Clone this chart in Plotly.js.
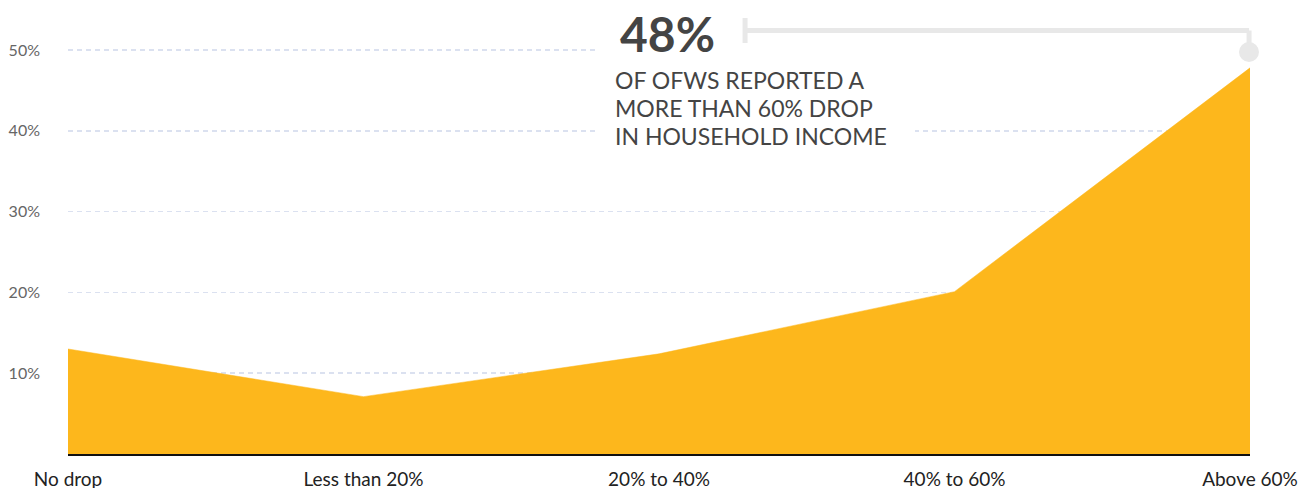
<!DOCTYPE html>
<html>
<head>
<meta charset="utf-8">
<script src="https://cdn.plot.ly/plotly-3.0.1.min.js"></script>
<style>html,body{margin:0;padding:0;background:#fff;}#chart{width:1299px;height:488px;}</style>
</head>
<body>
<div id="chart"></div>
<script>
const categories = ["No drop", "Less than 20%", "20% to 40%", "40% to 60%", "Above 60%"];
const shares = [13, 7.1, 12.4, 20.1, 47.8];
const yTickVals = [10, 20, 30, 40, 50];
const yTickText = ["10%", "20%", "30%", "40%", "50%"];
const headline = "48%";
const sublines = ["OF OFWS REPORTED A", "MORE THAN 60% DROP", "IN HOUSEHOLD INCOME"];

const FONT = "Lato, 'Open Sans', sans-serif";
const trace = {
  x: categories,
  y: shares,
  type: "scatter",
  mode: "lines",
  fill: "tozeroy",
  fillcolor: "#FDB71C",
  line: {color: "#FDB71C", width: 0.5},
  hoverinfo: "x+y"
};

const grey = "#e8e8e8";
const sublineY = [0.824, 0.762, 0.700];
const layout = {
  width: 1299, height: 488,
  margin: {l: 68, r: 49, t: 0, b: 34},
  paper_bgcolor: "#fff", plot_bgcolor: "#fff",
  showlegend: false,
  font: {family: FONT},
  xaxis: {
    type: "category",
    range: [0, 4],
    showgrid: false, zeroline: false,
    showline: true, linecolor: "#111", linewidth: 2,
    ticks: "", ticklabelstandoff: 7,
    tickfont: {family: FONT, size: 19, color: "#222"},
    fixedrange: true
  },
  yaxis: {
    range: [0, 56.2],
    tickvals: yTickVals, ticktext: yTickText,
    showgrid: true, gridcolor: "#dbe1f0", gridwidth: 1.5, griddash: "5px,4px",
    zeroline: false, showline: false, ticks: "",
    ticklabelstandoff: 27,
    tickfont: {family: FONT, size: 16, color: "#666"},
    fixedrange: true
  },
  shapes: [
    {type: "rect", xref: "paper", yref: "paper", layer: "above",
     x0: 0.4459, x1: 1.01, y0: 0.868, y1: 0.912, fillcolor: "#fff", line: {width: 0}},
    {type: "rect", xref: "paper", yref: "paper", layer: "above",
     x0: 0.4459, x1: 0.7166, y0: 0.6916, y1: 0.7357, fillcolor: "#fff", line: {width: 0}},
    {type: "line", xref: "paper", yref: "paper", x0: 0.5728, x1: 0.5728, y0: 0.9053, y1: 0.9604,
     line: {color: grey, width: 5}},
    {type: "line", xref: "paper", yref: "paper", x0: 0.5728, x1: 0.9992, y0: 0.9328, y1: 0.9328,
     line: {color: grey, width: 5}},
    {type: "line", xref: "paper", yref: "paper", x0: 0.9992, x1: 0.9992, y0: 0.9328, y1: 0.89,
     line: {color: grey, width: 5}},
    {type: "circle", xref: "paper", yref: "paper", x0: 0.9907, x1: 1.0076, y0: 0.8634, y1: 0.9075,
     fillcolor: grey, line: {width: 0}}
  ],
  annotations: [
    {xref: "paper", yref: "paper", x: 0.465, y: 0.927, xanchor: "left", yanchor: "middle",
     text: "<b>" + headline + "</b>", showarrow: false,
     font: {family: FONT, size: 48, color: "#444"}}
  ].concat(sublines.map((s, i) => ({
     xref: "paper", yref: "paper", x: 0.4615, y: sublineY[i], xanchor: "left", yanchor: "middle",
     align: "left", text: s, showarrow: false,
     font: {family: FONT, size: 23, color: "#444"}})))
};

Plotly.newPlot("chart", [trace], layout, {displayModeBar: false, staticPlot: true});
</script>
</body>
</html>
